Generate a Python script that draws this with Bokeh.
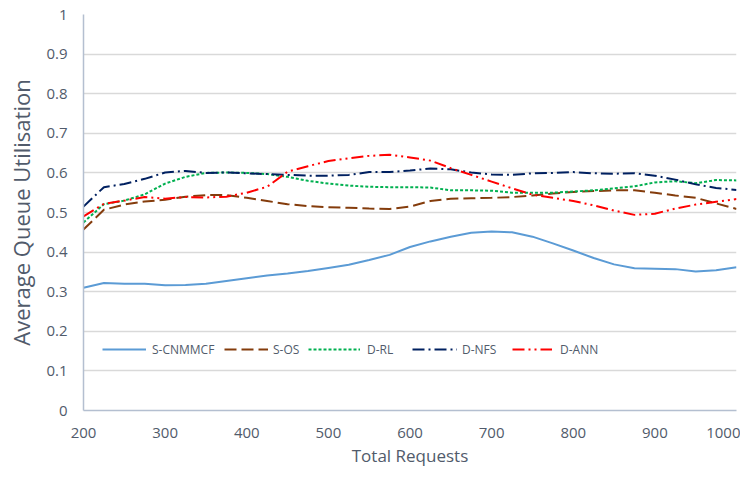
from bokeh.plotting import figure
from bokeh.models import FixedTicker, Legend, LegendItem
from bokeh.embed import file_html
from bokeh.resources import INLINE

requests = [200, 225, 250, 275, 300, 325, 350, 375, 400, 425, 450, 475, 500, 525, 550, 575,
            600, 625, 650, 675, 700, 725, 750, 775, 800, 825, 850, 875, 900, 925, 950, 975, 1000]

s_cnmmcf = [0.310, 0.322, 0.320, 0.320, 0.316, 0.317, 0.320, 0.327, 0.334, 0.341, 0.346, 0.352,
            0.360, 0.368, 0.380, 0.393, 0.413, 0.427, 0.439, 0.449, 0.452, 0.450, 0.439, 0.422,
            0.404, 0.385, 0.369, 0.359, 0.358, 0.357, 0.351, 0.354, 0.362]
s_os = [0.457, 0.507, 0.520, 0.528, 0.532, 0.540, 0.544, 0.544, 0.537, 0.529, 0.521, 0.516,
        0.513, 0.512, 0.510, 0.509, 0.515, 0.529, 0.535, 0.536, 0.537, 0.539, 0.543, 0.548,
        0.552, 0.554, 0.556, 0.556, 0.550, 0.543, 0.537, 0.523, 0.509]
d_rl = [0.475, 0.521, 0.530, 0.546, 0.573, 0.590, 0.600, 0.601, 0.600, 0.597, 0.590, 0.580,
        0.573, 0.568, 0.565, 0.564, 0.564, 0.563, 0.556, 0.556, 0.555, 0.550, 0.550, 0.550,
        0.553, 0.556, 0.561, 0.566, 0.576, 0.579, 0.574, 0.582, 0.581]
d_nfs = [0.515, 0.564, 0.572, 0.585, 0.601, 0.605, 0.600, 0.601, 0.599, 0.597, 0.595, 0.593,
         0.593, 0.595, 0.602, 0.602, 0.606, 0.611, 0.609, 0.601, 0.596, 0.595, 0.599, 0.600,
         0.602, 0.599, 0.598, 0.599, 0.593, 0.583, 0.571, 0.562, 0.557]
d_ann = [0.490, 0.522, 0.530, 0.539, 0.535, 0.539, 0.538, 0.540, 0.550, 0.565, 0.603, 0.617,
         0.630, 0.637, 0.643, 0.646, 0.639, 0.631, 0.612, 0.595, 0.578, 0.561, 0.545, 0.537,
         0.529, 0.518, 0.505, 0.494, 0.497, 0.510, 0.520, 0.527, 0.534]

series_names = ["S-CNMMCF", "S-OS", "D-RL", "D-NFS", "D-ANN"]
x_ticks = [200, 300, 400, 500, 600, 700, 800, 900, 1000]
y_ticks = [0, 0.1, 0.2, 0.3, 0.4, 0.5, 0.6, 0.7, 0.8, 0.9, 1.0]

FONT = "Open Sans"
TXT = "#515B6B"

p = figure(width=740, height=470, x_range=(200, 1000), y_range=(0, 1),
           output_backend="svg", toolbar_location=None,
           min_border_left=83, min_border_right=4, min_border_top=14, min_border_bottom=60)
p.outline_line_color = None

styles = [
    dict(color="#5B9BD5", dash="solid", lx=19, gw=44, so=6),
    dict(color="#843C0C", dash="12 5", lx=141, gw=44, so=5),
    dict(color="#00B050", dash="3 2", lx=225, gw=52, so=7),
    dict(color="#002060", dash="12 4 2 4", lx=329, gw=45, so=5),
    dict(color="#FF0000", dash="12 4 2 4 2 4", lx=429, gw=40, so=8),
]
for name, ys, st in zip(series_names, [s_cnmmcf, s_os, d_rl, d_nfs, d_ann], styles):
    r = p.line(requests, ys, line_color=st["color"], line_width=2, line_dash=st["dash"])
    lg = Legend(items=[LegendItem(label=name, renderers=[r])], orientation="horizontal",
                location=(st["lx"], 51), padding=0, margin=0,
                label_text_font=FONT, label_text_font_size="12px", label_text_color=TXT,
                glyph_width=st["gw"], label_standoff=st["so"],
                background_fill_alpha=0, border_line_color=None)
    p.add_layout(lg, "center")

p.xaxis.ticker = FixedTicker(ticks=x_ticks)
p.yaxis.ticker = FixedTicker(ticks=y_ticks)
p.yaxis.major_label_overrides = {0: "0", 1: "1"}
for ax in (p.xaxis[0], p.yaxis[0]):
    ax.axis_line_color = "#B4BFD0"
    ax.axis_line_width = 1.5
    ax.major_tick_line_color = None
    ax.minor_tick_line_color = None
    ax.major_label_text_font = FONT
    ax.major_label_text_font_size = "15px"
    ax.major_label_text_color = TXT
    ax.axis_label_text_font = FONT
    ax.axis_label_text_font_style = "normal"
    ax.axis_label_text_color = TXT
p.xaxis.axis_label = "Total Requests"
p.xaxis.axis_label_text_font_size = "17px"
p.xaxis.major_label_standoff = 11
p.xaxis.axis_label_standoff = 3
p.yaxis.axis_label = "Average Queue Utilisation"
p.yaxis.axis_label_text_font_size = "22px"
p.yaxis.major_label_standoff = 10
p.yaxis.axis_label_standoff = 7

p.xgrid.grid_line_color = None
p.ygrid.grid_line_color = "#D9D9D9"
p.ygrid.grid_line_width = 1.5

open("out.html", "w").write(file_html(p, INLINE))
